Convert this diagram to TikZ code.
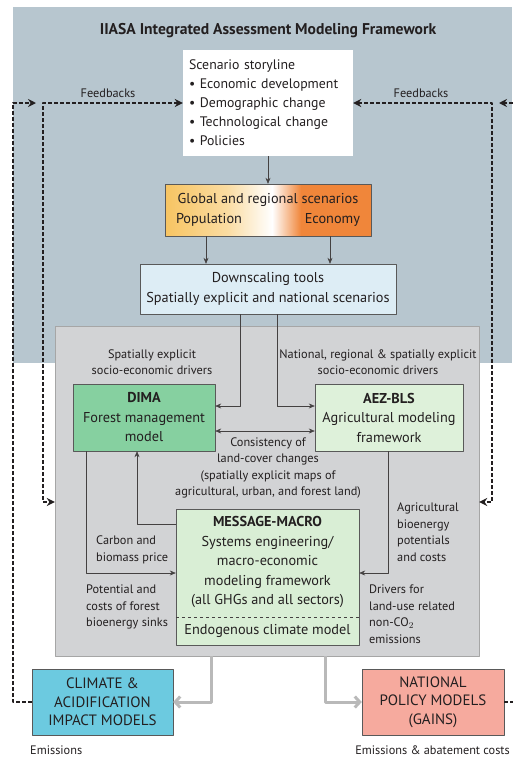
\documentclass[tikz,border=0pt]{standalone}
\usepackage{fontspec}
\setmainfont{PT Sans}
\usetikzlibrary{arrows.meta}
\usetikzlibrary{positioning}

\definecolor{bgblue}{RGB}{183,198,207}
\definecolor{coregray}{RGB}{210,211,213}
\definecolor{downblue}{RGB}{221,237,245}
\definecolor{dimagreen}{RGB}{134,208,160}
\definecolor{aezgreen}{RGB}{222,241,218}
\definecolor{msggreen}{RGB}{217,238,213}
\definecolor{climblue}{RGB}{108,202,224}
\definecolor{natred}{RGB}{246,170,158}
\definecolor{scenL}{RGB}{247,196,98}
\definecolor{scenR}{RGB}{240,134,58}
\definecolor{txt}{RGB}{35,31,32}
\pgfdeclarehorizontalshading{scenshade}{100bp}{color(0bp)=(scenL); color(25bp)=(scenL); color(40bp)=(scenL!60!white); color(51bp)=(white); color(58bp)=(scenR); color(100bp)=(scenR)}

\begin{document}
\begin{tikzpicture}[x=1pt,y=-1pt,line join=round,>={Stealth[length=6pt,width=5pt]},
  box/.style={draw=gray!70!black,line width=0.4pt,text=txt,align=center,font=\fontsize{14.3}{19.5}\selectfont},
  lbl/.style={text=txt,align=center,inner sep=0pt,font=\fontsize{12.3}{16.5}\selectfont},
  conn/.style={draw=txt!85,line width=0.6pt},
  fb/.style={draw=txt,line width=2.2pt,dash pattern=on 4pt off 2pt,>={Stealth[length=8pt,width=8pt]}},
  outarrow/.style={draw=gray!55,line width=3pt,-{Straight Barb[length=5pt,width=11pt]}}]
\useasboundingbox (0,0) rectangle (512,758);
% background areas
\fill[bgblue] (13,7) rectangle (512,363);
\node[draw=gray!70,fill=coregray,minimum width=424pt,minimum height=330pt] (core) at (267,491) {};
\node[text=txt,font=\fontsize{15.6}{19}\selectfont\bfseries] (title) at (268,31) {IIASA Integrated Assessment Modeling Framework};

% top chain
\node[box,draw=none,fill=white,text width=158pt,align=left,inner xsep=6pt,minimum height=106pt,font=\fontsize{13.8}{19}\selectfont] (story) at (268,103)
  {Scenario storyline\\ \textbullet\ Economic development\\ \textbullet\ Demographic change\\ \textbullet\ Technological change\\ \textbullet\ Policies};
\node[box,shading=scenshade,minimum width=206pt,minimum height=52pt] (glob) at (268,210)
  {\makebox[184pt]{Global and regional scenarios}\\ \makebox[184pt]{Population\hfill Economy}};
\node[box,fill=downblue,minimum width=256pt,minimum height=50pt] (down) at (268,289)
  {Downscaling tools\\ Spatially explicit and national scenarios};
\draw[conn,->] (story) -- (glob);
\draw[conn,->] ([xshift=-62pt]glob.south) -- ([xshift=-62pt]down.north);
\draw[conn,->] ([xshift=62pt]glob.south) -- ([xshift=62pt]down.north);

% land-use models
\node[lbl] (drvL) at (152,362) {Spatially explicit\\socio-economic drivers};
\node[lbl] (drvR) at (378,362) {National, regional \& spatially explicit\\socio-economic drivers};
\node[box,fill=dimagreen,minimum width=142pt,minimum height=67pt] (dima) at (144,417.5)
  {\textbf{DIMA}\\ Forest management\\ model};
\node[box,fill=aezgreen,minimum width=148pt,minimum height=67pt] (aez) at (389,417.5)
  {\textbf{AEZ-BLS}\\ Agricultural modeling\\ framework};
\draw[conn,->] ([xshift=-28pt]down.south) |- ([yshift=11.5pt]dima.east);
\draw[conn,->] ([xshift=9pt]down.south) |- ([yshift=11.5pt]aez.west);
\draw[conn,<->] ([yshift=-13.5pt]dima.east) -- ([yshift=-13.5pt]aez.west);
\node[lbl] (cons) at (268,468) {Consistency of\\land-cover changes\\(spatially explicit maps of\\agricultural, urban, and forest land)};

% energy model
\node[box,fill=msggreen,minimum width=183pt,minimum height=136pt] (msg) at (267.5,577)
  {\textbf{MESSAGE-MACRO}\\ Systems engineering/\\ macro-economic\\ modeling framework\\ (all GHGs and all sectors)\\[10pt] Endogenous climate model};
\draw[draw=txt!85,line width=0.5pt,dashed] ([yshift=-40pt]msg.west) -- ([yshift=-40pt]msg.east);
\draw[conn,->] ([yshift=53pt]msg.west) -| ([xshift=-7pt]dima.south);
\draw[conn,->] ([xshift=-58pt]dima.south) |- ([yshift=4pt]msg.west);
\draw[conn,->] ([xshift=-1pt]aez.south) |- ([yshift=4pt]msg.east);
\node[lbl,align=left,anchor=west] (price) at (96,550) {Carbon and\\biomass price};
\node[lbl,align=left,anchor=west] (sinks) at (86,607) {Potential and\\costs of forest\\bioenergy sinks};
\node[lbl,align=left,anchor=west] (agpot) at (397,532) {Agricultural\\bioenergy\\potentials\\and costs};
\node[lbl,align=left,anchor=west] (nonco) at (369,614) {Drivers for\\land-use related\\non-CO$_2$\\emissions};

% impact and policy models
\node[box,fill=climblue,minimum width=141pt,minimum height=66pt,font=\fontsize{15}{18.5}\selectfont] (clim) at (102.5,702)
  {CLIMATE \&\\ ACIDIFICATION\\ IMPACT MODELS};
\node[box,fill=natred,minimum width=142pt,minimum height=66pt,font=\fontsize{15}{18.5}\selectfont] (nat) at (433,702)
  {NATIONAL\\ POLICY MODELS\\ (GAINS)};
\draw[outarrow] ([xshift=-56pt]core.south) |- (clim.east);
\draw[outarrow] ([xshift=58pt]core.south) |- (nat.west);
\node[lbl,anchor=west] (emL) at (30,750) {Emissions};
\node[lbl,anchor=east] (emR) at (510,750) {Emissions \& abatement costs};

% feedbacks
\coordinate (fbL) at (43,103);
\coordinate (fbR) at (492,103);
\draw[fb,<->] (story.west) -- (fbL) |- ([yshift=-11pt]core.west);
\draw[fb,<->] (story.east) -- (fbR) |- ([yshift=-11pt]core.east);
\draw[fb,->] (clim.west) -- ++(-19,0) |- ([xshift=-7pt]fbL);
\draw[fb,->] (nat.east) -- ++(14,0) |- ([xshift=7pt]fbR);
\node[lbl] (fbtxtL) at (108,93) {Feedbacks};
\node[lbl] (fbtxtR) at (421,93) {Feedbacks};
\end{tikzpicture}
\end{document}
